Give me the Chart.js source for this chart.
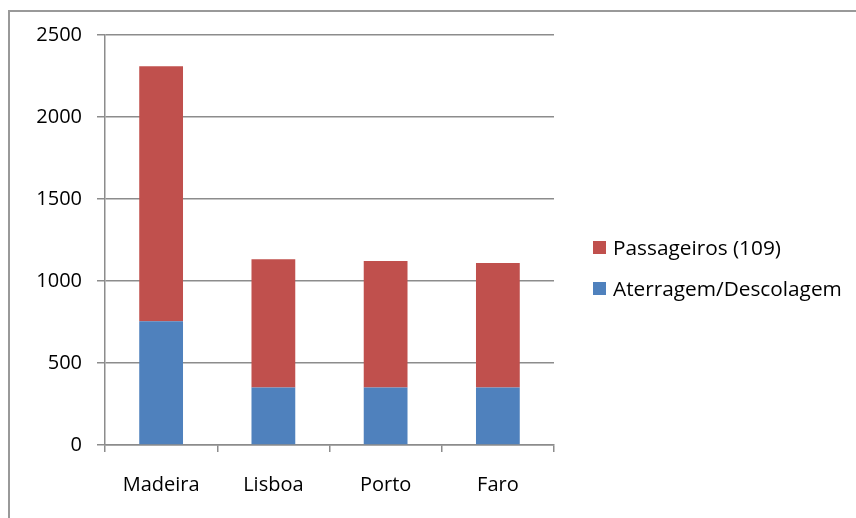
<!DOCTYPE html>
<html>
<head>
<meta charset="utf-8">
<script src="https://cdn.jsdelivr.net/npm/chart.js@4.4.1/dist/chart.umd.min.js"></script>
<style>
  html, body { margin: 0; padding: 0; background: #fff; }
  #wrap { position: relative; width: 856px; height: 518px; overflow: hidden; }
  #legend { position: absolute; left: 593px; top: 237px; font: 20.8px "Open Sans", sans-serif; color: #000; }
  #legend .item { display: flex; align-items: center; height: 20px; margin-bottom: 21px; white-space: nowrap; }
  #legend .box { width: 13px; height: 13px; margin-right: 7px; }
</style>
</head>
<body>
<div id="wrap">
  <canvas id="chart" width="856" height="518"></canvas>
  <div id="legend"></div>
</div>
<script>
const airports = ['Madeira', 'Lisboa', 'Porto', 'Faro'];
const landingTakeoff = [755, 350, 350, 350];
const passengers = [1555, 783, 772, 760];
const yMin = 0;
const yMax = 2500;
const yStep = 500;

const gridGrey = '#8c8c8c';
const font = { family: '"Open Sans", sans-serif', size: 20 };

// outer frame of the chart object
const frame = {
  id: 'frame',
  beforeDraw(chart) {
    const c = chart.ctx;
    c.save();
    c.strokeStyle = '#999';
    c.lineWidth = 2;
    c.strokeRect(9, 11, 900, 600);
    c.restore();
  }
};

// legend as html, built from the chart's own legend items
const htmlLegend = {
  id: 'htmlLegend',
  afterUpdate(chart) {
    const el = document.getElementById('legend');
    el.innerHTML = '';
    const items = chart.options.plugins.legend.labels.generateLabels(chart).reverse();
    items.forEach(item => {
      const row = document.createElement('div');
      row.className = 'item';
      const box = document.createElement('span');
      box.className = 'box';
      box.style.background = item.fillStyle;
      const txt = document.createElement('span');
      txt.textContent = item.text;
      row.appendChild(box);
      row.appendChild(txt);
      el.appendChild(row);
    });
  }
};

new Chart(document.getElementById('chart'), {
  type: 'bar',
  data: {
    labels: airports,
    datasets: [
      {
        label: 'Aterragem/Descolagem',
        data: landingTakeoff,
        backgroundColor: '#4f81bd'
      },
      {
        label: 'Passageiros (109)',
        data: passengers,
        backgroundColor: '#c0504d'
      }
    ]
  },
  options: {
    responsive: false,
    animation: false,
    datasets: {
      bar: { barPercentage: 0.39, categoryPercentage: 1 }
    },
    layout: { padding: { top: 35, left: 0, bottom: 0, right: 302 } },
    scales: {
      x: {
        stacked: true,
        grid: { offset: true, drawOnChartArea: false, tickLength: 7, color: gridGrey, lineWidth: 1.5 },
        border: { color: gridGrey, width: 1.5 },
        ticks: { color: '#000', font: font, padding: 21 },
        afterFit(s) { s.height = 73; }
      },
      y: {
        stacked: true,
        min: yMin,
        max: yMax,
        ticks: { stepSize: yStep, color: '#000', font: font, padding: 15, callback: v => String(v) },
        grid: { color: gridGrey, lineWidth: 1.5, tickLength: 8 },
        border: { color: gridGrey, width: 1.5 },
        afterFit(s) { s.width = 105; }
      }
    },
    plugins: {
      legend: { display: false },
      tooltip: { enabled: false }
    }
  },
  plugins: [frame, htmlLegend]
});
</script>
</body>
</html>
